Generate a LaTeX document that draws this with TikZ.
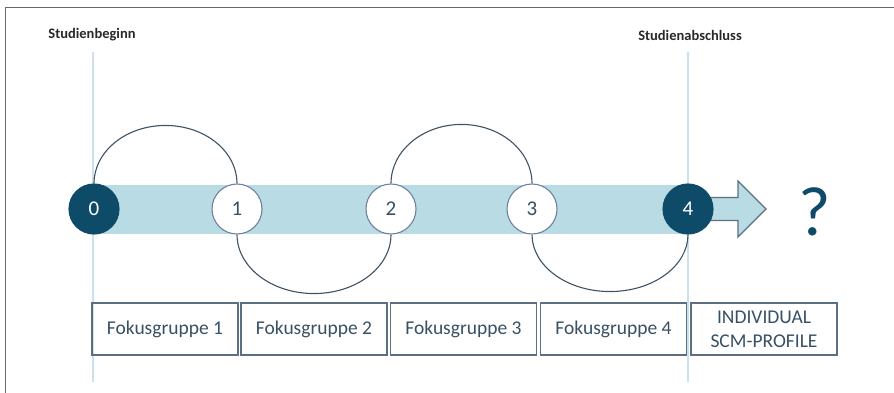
\documentclass[tikz,border=0pt]{standalone}
\usepackage{fontspec}
\setmainfont{Carlito}
\usetikzlibrary{calc,backgrounds}

\definecolor{deepblue}{RGB}{14,75,105}
\definecolor{bandblue}{RGB}{184,219,228}
\definecolor{arcgray}{RGB}{62,82,98}
\definecolor{ringgray}{RGB}{112,128,160}
\definecolor{guideblue}{RGB}{202,226,238}
\definecolor{boxline}{RGB}{92,112,130}
\definecolor{boxtext}{RGB}{55,80,100}
\definecolor{labeltext}{RGB}{40,40,40}
\definecolor{framegray}{RGB}{105,105,105}

\tikzset{
  milestone/.style={circle, minimum size=50pt, inner sep=0pt, line width=1.1pt,
    font=\fontsize{21}{24}\selectfont},
  openstone/.style={milestone, draw=ringgray, fill=white, text=boxtext},
  fullstone/.style={milestone, draw=deepblue, fill=deepblue, text=white},
  phasebox/.style={draw=boxline, line width=1.3pt, minimum width=146pt, minimum height=52pt,
    inner sep=0pt, align=center, text=boxtext, font=\fontsize{19.5}{24}\selectfont},
  phaselabel/.style={text=labeltext, font=\bfseries\fontsize{14.5}{17}\selectfont},
  loop/.style={draw=arcgray, line width=1.1pt},
  guide/.style={draw=guideblue, line width=2pt},
}

\begin{document}
\begin{tikzpicture}[x=1pt,y=1pt]
\useasboundingbox (0,0) rectangle (894,-393);

% outer frame (top and left edge)
\draw[framegray, line width=1.5pt] (5.5,-393) -- (5.5,-7.5) -- (894,-7.5);

% headings
\node[phaselabel] (start) at (92,-35) {Studienbeginn};
\node[phaselabel] (end) at (690,-35) {Studienabschluss};

% milestones
\node[fullstone] (c0) at (94,-209) {0};
\node[openstone] (c1) at (237,-209) {1};
\node[openstone] (c2) at (391,-209) {2};
\node[openstone] (c3) at (532,-209) {3};
\node[fullstone] (c4) at (688,-209) {4};

% outlook
\node[text=deepblue, font=\fontsize{70}{70}\selectfont] (q) at (815,-212) {?};

% focus group boxes
\node[phasebox] (f1) at (165,-329) {Fokusgruppe 1};
\node[phasebox] (f2) at (314,-329) {Fokusgruppe 2};
\node[phasebox] (f3) at (463.5,-329) {Fokusgruppe 3};
\node[phasebox] (f4) at (613.5,-329) {Fokusgruppe 4};
\node[phasebox] (f5) at (764,-329) {INDIVIDUAL\\SCM-PROFILE};

\begin{scope}[on background layer]
  % start and end guides
  \coordinate (g0top) at (93,-52);
  \coordinate (g0bot) at (93,-382);
  \coordinate (g4top) at (688,-52);
  \coordinate (g4bot) at (688,-382);
  \draw[guide] (g0top) -- (g0bot);
  \draw[guide] (g4top) -- (g4bot);

  % timeline band
  \fill[bandblue] ($(c0.center)+(0,24.5)$) rectangle ($(c4.center)+(0,-24.5)$);

  % outgoing arrow
  \draw[fill=bandblue, draw=boxline, line width=1.1pt, line join=miter]
    ($(c4.center)+(0,11.5)$) -- (738,-197.5) -- (738,-181) -- (766,-209)
    -- (738,-237) -- (738,-220.5) -- ($(c4.center)+(0,-11.5)$) -- cycle;

  % loops between milestones
  \draw[loop] (c0.north) arc[start angle=180, end angle=0, x radius=71.5, y radius=58];
  \draw[loop] (c2.north) arc[start angle=180, end angle=0, x radius=70.5, y radius=59];
  \draw[loop] (c1.south) arc[start angle=180, end angle=360, x radius=77, y radius=59];
  \draw[loop] (c3.south) arc[start angle=180, end angle=360, x radius=78, y radius=57];
\end{scope}
\end{tikzpicture}
\end{document}
